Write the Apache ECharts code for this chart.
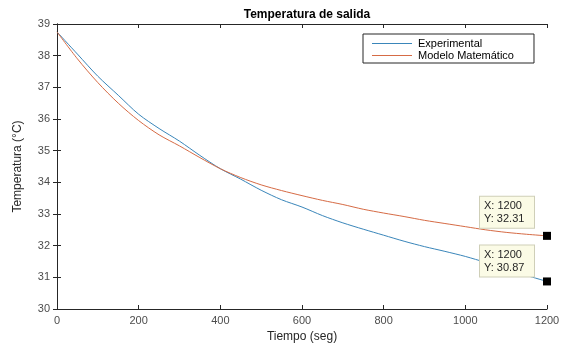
<!DOCTYPE html>
<html>
<head>
<meta charset="utf-8">
<script src="https://cdn.jsdelivr.net/npm/echarts@6/dist/echarts.min.js"></script>
<style>html,body{margin:0;padding:0;background:#fff}#c{width:568px;height:348px}</style>
</head>
<body>
<div id="c"></div>
<script>
var times = [0,50,100,150,200,250,300,350,400,450,500,550,600,650,700,750,800,850,900,950,1000,1050,1100,1150,1200];
var experimental = [38.75,38.05,37.35,36.75,36.15,35.7,35.3,34.85,34.43,34.1,33.75,33.45,33.22,32.95,32.72,32.52,32.33,32.14,31.97,31.82,31.66,31.47,31.27,31.06,30.87];
var modelo = [38.75,37.9,37.15,36.5,35.95,35.5,35.15,34.78,34.43,34.15,33.92,33.74,33.58,33.43,33.3,33.15,33.03,32.92,32.8,32.7,32.6,32.5,32.42,32.36,32.31];
var xTicks = [0,200,400,600,800,1000,1200];
var yTicks = [30,31,32,33,34,35,36,37,38,39];
var tips = [{x:1200, y:32.31}, {x:1200, y:30.87}];

var font = 'Liberation Sans, Arial, Helvetica, sans-serif';
function pairs(ys){ return times.map(function(t,i){ return [t, ys[i]]; }); }
var axisLineStyle = {color:'#262626', width:1};
var chart = echarts.init(document.getElementById('c'), null, {renderer:'canvas'});
chart.setOption({
  animation:false,
  backgroundColor:'#ffffff',
  title:{text:'Temperatura de salida', left:302, top:4, textAlign:'center',
    textStyle:{fontFamily:font, fontSize:12, fontWeight:'bold', color:'#000'}},
  grid:{left:57, right:21, top:24, bottom:38, containLabel:false},
  legend:{
    left:363, top:34, orient:'vertical', itemWidth:40, itemHeight:1, itemGap:1,
    icon:'path://M0,0L40,0L40,1L0,1Z',
    padding:[4,20,2,9], backgroundColor:'#fff', borderColor:'#262626', borderWidth:1, borderRadius:0,
    textStyle:{fontFamily:font, fontSize:11, lineHeight:11, color:'#000', padding:[0,0,0,1]},
    data:['Experimental','Modelo Matemático']
  },
  xAxis:[
    {type:'value', min:xTicks[0], max:xTicks[xTicks.length-1], interval:200,
     name:'Tiempo (seg)', nameLocation:'middle', nameGap:22,
     nameTextStyle:{fontFamily:font, fontSize:12, color:'#262626'},
     axisLine:{lineStyle:axisLineStyle}, axisTick:{inside:true, length:4, lineStyle:axisLineStyle},
     axisLabel:{fontFamily:font, fontSize:11, color:'#4d4d4d', margin:6, formatter:function(v){return String(v);}},
     splitLine:{show:false}},
    {type:'value', position:'top', min:xTicks[0], max:xTicks[xTicks.length-1], interval:200,
     axisLine:{show:true, lineStyle:axisLineStyle}, axisTick:{show:true, inside:true, length:4, lineStyle:axisLineStyle},
     axisLabel:{show:false}, splitLine:{show:false}}
  ],
  yAxis:[
    {type:'value', min:yTicks[0], max:yTicks[yTicks.length-1], interval:1,
     name:'Temperatura (°C)', nameLocation:'middle', nameGap:33, nameRotate:90,
     nameTextStyle:{fontFamily:font, fontSize:12, color:'#262626'},
     axisLine:{show:true, lineStyle:axisLineStyle}, axisTick:{show:true, inside:true, length:4, lineStyle:axisLineStyle},
     axisLabel:{fontFamily:font, fontSize:11, color:'#4d4d4d', margin:7},
     splitLine:{show:false}},
    {type:'value', position:'right', min:yTicks[0], max:yTicks[yTicks.length-1], interval:1,
     axisLine:{show:true, lineStyle:axisLineStyle}, axisTick:{show:true, inside:true, length:4, lineStyle:axisLineStyle},
     axisLabel:{show:false}, splitLine:{show:false}}
  ],
  series:[
    {name:'Experimental', type:'line', data:pairs(experimental), symbol:'none', smooth:0.3,
     lineStyle:{color:'#3a86ba', width:1}, itemStyle:{color:'#3a86ba'}},
    {name:'Modelo Matemático', type:'line', data:pairs(modelo), symbol:'none', smooth:0.3,
     lineStyle:{color:'#d66b45', width:1}, itemStyle:{color:'#d66b45'}},
    {name:'tips', type:'scatter', symbol:'rect', symbolSize:8, z:10,
     itemStyle:{color:'#000', opacity:1},
     emphasis:{disabled:true},
     data: tips.map(function(p, i){
       return {value:[p.x, p.y],
         label:{show:true, position:[-63, i===0 ? -35 : -32], align:'left', verticalAlign:'top',
           formatter:'X: ' + p.x + '\nY: ' + p.y.toFixed(2),
           fontFamily:font, fontSize:11, lineHeight:13, color:'#262626',
           backgroundColor:'#fbfbe6', borderColor:'#cfcfb8', borderWidth:1, padding:[3,4,2,4],
           width:46}};
     })}
  ]
});
</script>
</body>
</html>
